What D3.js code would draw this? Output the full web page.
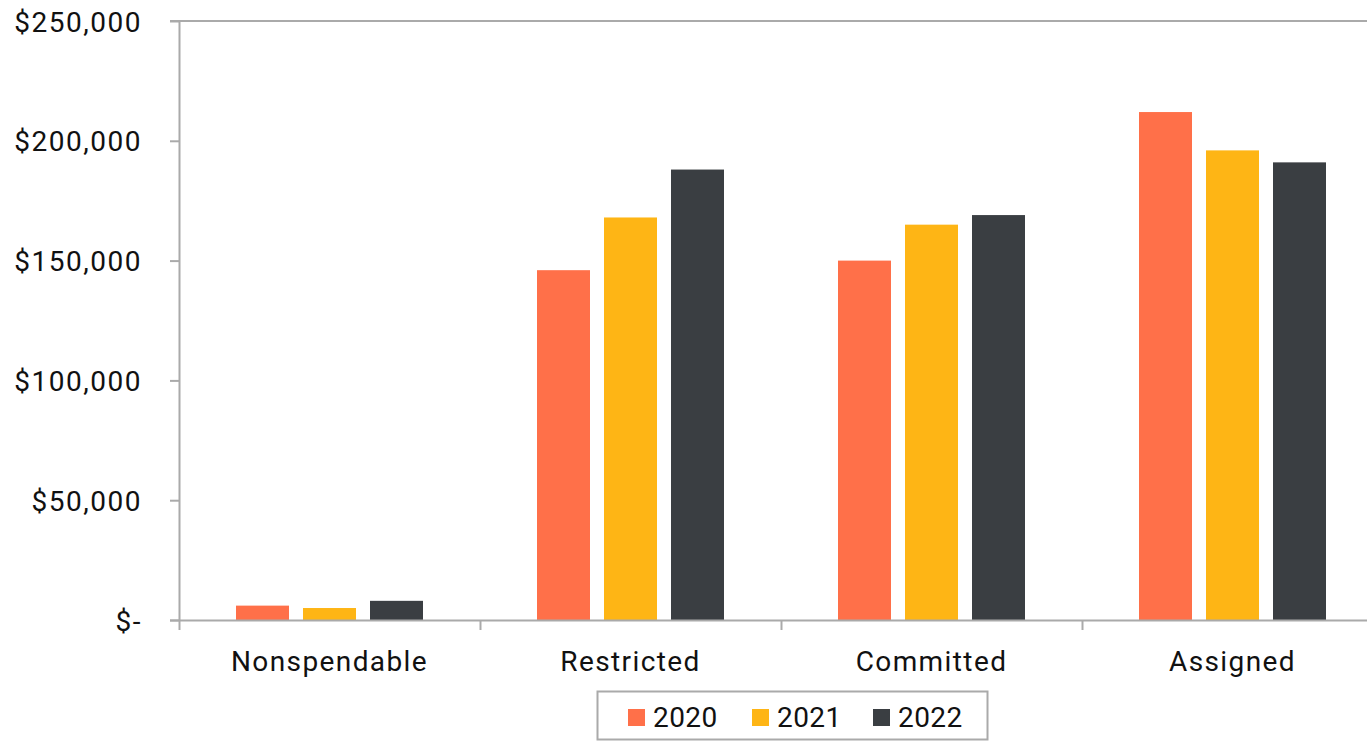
<!DOCTYPE html>
<html>
<head>
<meta charset="utf-8">
<script src="https://cdn.jsdelivr.net/npm/d3@7"></script>
<style>
  html, body { margin: 0; padding: 0; background: #fff; }
  svg { display: block; }
  text { font-family: Roboto, "Noto Sans", sans-serif; }
</style>
</head>
<body>
<svg id="chart" width="1367" height="742"></svg>
<script>
const categories = ["Nonspendable", "Restricted", "Committed", "Assigned"];
const years = ["2020", "2021", "2022"];
const values2020 = [6000, 146000, 150000, 212000];
const values2021 = [5000, 168000, 165000, 196000];
const values2022 = [8000, 188000, 169000, 191000];
const yTicks = [0, 50000, 100000, 150000, 200000, 250000];
const colors = ["#FF7049", "#FEB515", "#3A3E42"];

const series = [values2020, values2021, values2022];
const svg = d3.select("#chart");

const plotLeft = 179, plotRight = 1383, plotTop = 21, plotBottom = 620;

const x0 = d3.scaleBand().domain(categories).range([plotLeft, plotRight]).padding(0);
const x1 = d3.scaleBand().domain(years).range([57, 244]).paddingInner(14 / 67).paddingOuter(0);
const y = d3.scaleLinear().domain([0, 250000]).range([plotBottom, plotTop]);

const fmt = v => v === 0 ? "$-" : "$" + d3.format(",")(v);

// Y axis
const yAxis = svg.append("g").attr("transform", `translate(${plotLeft},0)`)
  .call(d3.axisLeft(y).tickValues(yTicks).tickFormat(fmt).tickSize(9).tickPadding(28))
  .attr("font-family", null).attr("font-size", null);
yAxis.select(".domain").attr("stroke", "#AAAAAA").attr("stroke-width", 2).attr("d", `M0.5,${plotTop}V${plotBottom}`);
yAxis.selectAll(".tick line").attr("stroke", "#AAAAAA").attr("stroke-width", 2);
yAxis.selectAll(".tick text").attr("fill", "#111").style("font-size", "28px").attr("dy", "0.36em").style("letter-spacing", "1.5px");

// top border line
svg.append("line")
  .attr("x1", plotLeft - 9).attr("x2", 1367)
  .attr("y1", y(250000)).attr("y2", y(250000))
  .attr("stroke", "#AAAAAA").attr("stroke-width", 2);

// Bars
const groups = svg.append("g").selectAll("g")
  .data(categories)
  .join("g")
  .attr("transform", d => `translate(${x0(d)},0)`);

groups.selectAll("rect")
  .data((c, i) => years.map((yr, j) => ({ yr, v: series[j][i], j })))
  .join("rect")
  .attr("x", d => x1(d.yr))
  .attr("width", x1.bandwidth())
  .attr("y", d => y(d.v))
  .attr("height", d => y(0) - y(d.v))
  .attr("fill", d => colors[d.j]);

// X axis
const xAxis = svg.append("g").attr("transform", `translate(0,${plotBottom})`)
  .call(d3.axisBottom(x0).tickSize(0).tickPadding(31))
  .attr("font-family", null).attr("font-size", null);
xAxis.select(".domain").attr("stroke", "#AAAAAA").attr("stroke-width", 2).attr("d", `M${plotLeft - 9},0.5H1367`);
xAxis.selectAll(".tick text").attr("fill", "#111").style("font-size", "28px").style("letter-spacing", "1.4px").attr("dy", "0.71em");

// category separator ticks
const sepX = categories.map(c => x0(c));
xAxis.selectAll(".sep").data(sepX).join("line")
  .attr("class", "sep")
  .attr("x1", d => d + 0.5).attr("x2", d => d + 0.5)
  .attr("y1", 0).attr("y2", 10)
  .attr("stroke", "#AAAAAA").attr("stroke-width", 2);

// Legend
const legend = svg.append("g");
legend.append("rect")
  .attr("x", 597.5).attr("y", 691.5).attr("width", 390).attr("height", 48)
  .attr("fill", "#fff").attr("stroke", "#AAAAAA").attr("stroke-width", 2);
const legX = [628, 752, 873];
years.forEach((yr, j) => {
  legend.append("rect").attr("x", legX[j]).attr("y", 709).attr("width", 17).attr("height", 17).attr("fill", colors[j]);
  legend.append("text").attr("x", legX[j] + 25).attr("y", 727).text(yr)
    .attr("fill", "#111").style("font-size", "28px").style("letter-spacing", "0.4px");
});
</script>
</body>
</html>
